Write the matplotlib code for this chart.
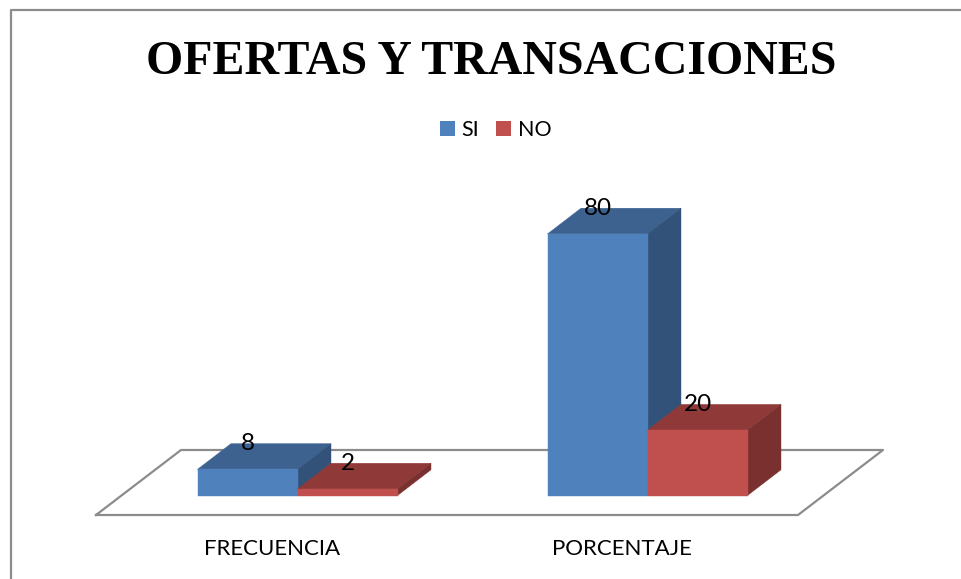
import numpy as np
import matplotlib
matplotlib.use('Agg')
import matplotlib.pyplot as plt
from matplotlib.patches import Polygon, Rectangle

# Data
categorias = ['FRECUENCIA', 'PORCENTAJE']
series = ['SI', 'NO']
si = [8, 80]
no = [2, 20]

# Colores
azul = ('#4f81bd', '#3d6290', '#325279')
rojo = ('#c0504d', '#8f3a38', '#7a302e')
gris = '#8c8c8c'

W, H = 961, 579
px_x = 350.0  # pixeles por categoria
px_y = 3.27   # pixeles por unidad
x0_px = 297.5  # pixel de la categoria 0
y0_px = 495.5  # pixel del valor 0

fig = plt.figure(figsize=(W / 100, H / 100), dpi=100, facecolor='white')
ax = fig.add_axes([0, 0, 1, 1])
ax.set_xlim(-x0_px / px_x, (W - x0_px) / px_x)
ax.set_ylim(-(H - y0_px) / px_y, y0_px / px_y)
ax.axis('off')

ancho = 100.0 / px_x
dx = 33.5 / px_x
dy = 25.7 / px_y
x = np.arange(len(categorias))


def barra3d(xi, valor, colores):
    frente, arriba, lado = colores
    izq, der = xi, xi + ancho
    ax.add_patch(Polygon([(izq, valor), (der, valor), (der + dx, valor + dy), (izq + dx, valor + dy)],
                         fc=arriba, ec=arriba, lw=0.3, zorder=3))
    ax.add_patch(Polygon([(der, 0), (der + dx, dy), (der + dx, valor + dy), (der, valor)],
                         fc=lado, ec=lado, lw=0.3, zorder=3))
    ax.add_patch(Rectangle((izq, 0), ancho, valor, fc=frente, ec=frente, lw=0.3, zorder=3))


# Piso del grafico
piso_x = np.array([96, 798, 883, 181, 96])
piso_y = np.array([515, 515, 450, 450, 515])
ax.plot((piso_x - x0_px) / px_x, (y0_px - piso_y) / px_y, color=gris, lw=1.6, zorder=1)

# Barras
for i in x:
    barra3d(i - ancho, si[i], azul)
    barra3d(i, no[i], rojo)

# Etiquetas de valor
for i in x:
    ax.text(i - ancho / 2, si[i] + dy, str(si[i]), ha='center', va='center',
            family='Lato', fontsize=17.5, color='black', zorder=5)
    ax.text(i + ancho / 2, no[i] + dy, str(no[i]), ha='center', va='center',
            family='Lato', fontsize=17.5, color='black', zorder=5)

# Etiquetas de categoria
for i, c in zip(x, categorias):
    ax.text(i - 0.073, -(549 - y0_px) / px_y, c, ha='center', va='center',
            family='Lato', fontsize=16, color='black')

# Titulo
fig.text(491 / W, 1 - 62 / H, 'OFERTAS Y TRANSACCIONES', ha='center', va='center',
         family='Liberation Serif', weight='bold', fontsize=34.5, color='black')

# Leyenda
for xl, xt, nombre, col in [(440, 461, series[0], azul[0]), (496, 518, series[1], rojo[0])]:
    fig.add_artist(Rectangle((xl / W, 1 - 136 / H), 15 / W, 15 / H, fc=col, ec='none',
                             transform=fig.transFigure))
    fig.text(xt / W, 1 - 130 / H, nombre, ha='left', va='center',
             family='Lato', fontsize=15.5, color='black')

# Marco
fig.add_artist(plt.Line2D([10.5 / W, 10.5 / W, 1.0], [0, 1 - 9.5 / H, 1 - 9.5 / H],
                          color=gris, lw=1.6, transform=fig.transFigure))

fig.savefig('out.png', dpi=100)
